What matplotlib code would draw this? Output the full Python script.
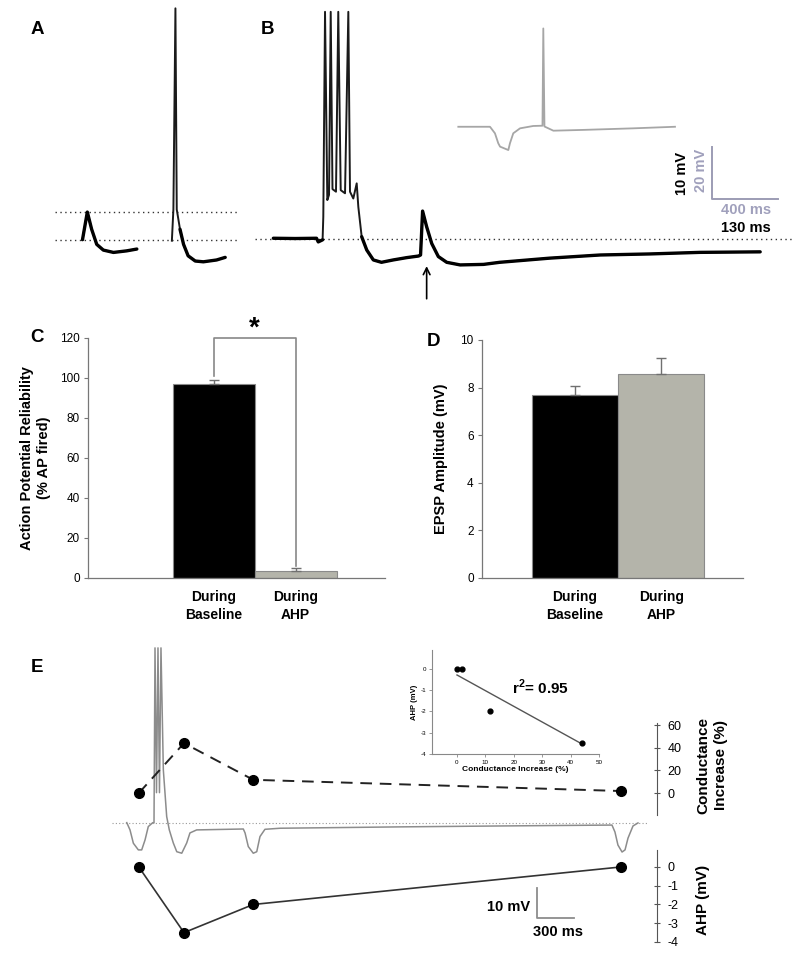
import numpy as np
import matplotlib
matplotlib.use("Agg")
import matplotlib.pyplot as plt

plt.rcParams['font.family'] = ['Liberation Sans', 'DejaVu Sans']
plt.rcParams['axes.unicode_minus'] = False
plt.rcParams['mathtext.fontset'] = 'custom'
plt.rcParams['mathtext.rm'] = 'Liberation Sans'
plt.rcParams['mathtext.bf'] = 'Liberation Sans:bold'

W, H = 800, 957

# ---------------- data ----------------
# A: subthreshold EPSP and EPSP that fires a spike (ms, mV from rest)
a_epsp_t = [64, 73.5, 82, 92, 105, 125, 151, 171]
a_epsp_v = [0.1, 5.4, 2.1, -0.8, -1.9, -2.35, -2.05, -1.7]
a_spike_t = [240, 243, 247, 249.6, 256, 263, 272, 286, 302, 328, 345]
a_spike_v = [-0.1, 5.9, 44.5, 5.9, 2.1, -0.8, -3.0, -4.0, -4.15, -3.8, -3.3]
a_levels = [0, 5.5]

# B: spike train, then an EPSP riding on the AHP
b_t = [46, 89, 131, 134.5, 143, 144.4, 147.8, 152.3, 155.7, 159, 162.5, 169.4, 173.9,
       178.7, 187.2, 193.7, 197, 203.5, 210.2, 213.4, 220, 230, 243, 259, 282, 309,
       332, 336, 340, 348, 358, 371, 387.5, 414, 460, 492, 591, 690, 788, 886, 1005]
b_v = [0.2, 0.15, 0.2, -0.5, -0.1, 4.3, 43.5, 7.5, 8.5, 43.5, 9.6, 9.1, 43.5,
       9.4, 8.8, 43.5, 9.1, 7.8, 10.7, 6.2, 0.5, -2.05, -3.95, -4.4, -3.95, -3.5,
       -3.2, -3.0, 5.4, 2.4, -0.8, -3.3, -4.4, -4.9, -4.8, -4.4, -3.6, -3.0, -2.8, -2.5, -2.4]
b_stim_t = 348

# B inset (grey): hyperpolarizing pulse then spike
g_t = [111, 303, 333, 353, 364, 414, 424, 444, 485, 565, 621, 626, 633, 687, 868, 1171, 1424]
g_v = [-0.1, -0.1, -2.6, -6.4, -7.7, -9.0, -6.4, -2.6, -0.7, 0.2, 0.3, 37.5, 0, -1.6, -1.3, -0.7, -0.1]

# C: AP reliability
groups = ['During\nBaseline', 'During\nAHP']
rel_mean = [96.8, 3.3]
rel_sem = [2.0, 1.7]

# D: EPSP amplitude
epsp_mean = [7.67, 8.57]
epsp_sem = [0.40, 0.66]

# E: conductance-probe trace (ms, mV)
e_t = [175, 201, 228, 268, 295, 322, 348, 384,
       394, 402, 414, 426, 438, 450, 469,
       496, 517, 549, 577, 617, 657, 683, 737, 1112, 1126, 1152, 1192, 1220, 1246,
       1286, 1407, 2372, 3176, 4076, 4100, 4124, 4157, 4181, 4205, 4245, 4285]
e_v = [0.1, -2.3, -6.7, -8.9, -8.9, -5.6, -1.2, 0.1,
       0, 57.8, 10, 57.8, 10, 57.8, 17.5,
       2.1, -2.3, -6.6, -9.5, -10.0, -6.6, -3.3, -2.3, -2.0, -3.3, -7.8, -10.0, -9.5, -4.5,
       -2.1, -1.75, -1.3, -1.0, -0.7, -3.0, -7.3, -9.6, -8.9, -5.0, -1.0, 0]
pulse_t = [272, 635, 1192, 4148]
cond_inc = [0, 44, 11.7, 1.8]
ahp_mv = [0, -3.5, -2.0, 0]
fit_x = [0, 44]
fit_y = [-0.3, -3.53]
r2 = 0.95


def px_rect(l, t, r, b):
    return [l / W, 1 - b / H, (r - l) / W, (b - t) / H]


fig = plt.figure(figsize=(8, 9.57), dpi=100)


def ftext(x, y, s, **kw):
    fig.text(x / W, 1 - y / H, s, **kw)


dot_ls = (0, (1, 2.5))
bold = dict(fontweight='bold')
lavender = '#a0a0bc'


def trace(ax, t, v, thin_mask):
    t = np.asarray(t, float)
    v = np.asarray(v, float)
    ax.plot(t, v, color='#1a1a1a', lw=1.4, solid_joinstyle='round')
    ax.plot(t, np.where(thin_mask(t, v), np.nan, v), color='black', lw=2.4,
            solid_joinstyle='round', solid_capstyle='round')


# ---------------- A ----------------
ax_a = fig.add_axes(px_rect(50, 0, 245, 310))
ax_a.set_xlim(0, 384)
ax_a.set_ylim(-13.4, 46.1)
ax_a.axis('off')
for lev in a_levels:
    ax_a.axhline(lev, xmin=0.026, xmax=0.964, color='#333', lw=1, ls=dot_ls)
trace(ax_a, a_epsp_t, a_epsp_v, lambda t, v: v > 20)
trace(ax_a, a_spike_t, a_spike_v, lambda t, v: v > 5)

# ---------------- B ----------------
ax_b = fig.add_axes(px_rect(250, 0, 800, 310))
ax_b.set_xlim(0, 1083.5)
ax_b.set_ylim(-13.52, 45.76)
ax_b.axis('off')
ax_b.axhline(0, xmin=0.009, xmax=0.985, color='#333', lw=1, ls=dot_ls)
trace(ax_b, b_t, b_v, lambda t, v: (t > 143.5) & (t < 219))
ax_b.annotate('', xy=(b_stim_t, -4.6), xytext=(b_stim_t, -11.9),
              arrowprops=dict(arrowstyle='->', lw=1.2, color='black', mutation_scale=12))
# scale bar: 10 mV / 130 ms (black), 20 mV / 400 ms (grey)
ax_b.plot([910.7, 910.7, 1040.7], [17.7, 7.7, 7.7], color='#9c9cb4', lw=1.4)

ax_gi = fig.add_axes(px_rect(440, 20, 690, 160))
ax_gi.set_xlim(0, 1515)
ax_gi.set_ylim(-12.81, 40.73)
ax_gi.axis('off')
ax_gi.plot(g_t, g_v, color='#a6a6a6', lw=1.3)

ftext(682, 173, '10 mV', rotation=90, ha='center', va='center', fontsize=10.5, **bold)
ftext(701, 170, '20 mV', rotation=90, ha='center', va='center', fontsize=10.5,
      color=lavender, **bold)
ftext(746, 210, '400 ms', ha='center', va='center', fontsize=10.5, color=lavender, **bold)
ftext(746, 228, '130 ms', ha='center', va='center', fontsize=10.5, **bold)


# ---------------- C & D ----------------
def bar_panel(rect, means, sems, xlim, ylim, yticks, ylabel, label_x):
    ax = fig.add_axes(px_rect(*rect))
    x = np.arange(len(means))
    ax.bar(x, means, width=1.0, color=['black', '#b4b4aa'], edgecolor='#8a8a8a', linewidth=0.8)
    ax.errorbar(x, means, yerr=[np.zeros(len(means)), sems], fmt='none',
                ecolor='#707070', elinewidth=1, capsize=3.5, capthick=1)
    ax.set_xlim(*xlim)
    ax.set_ylim(*ylim)
    ax.set_yticks(yticks)
    ax.set_xticks(x)
    ax.set_xticklabels(groups, fontsize=10, fontweight='bold', linespacing=1.3)
    ax.tick_params(axis='x', length=0, pad=9)
    ax.tick_params(axis='y', length=3, width=0.8, color='#777', labelsize=8.5, pad=3)
    for s in ('top', 'right'):
        ax.spines[s].set_visible(False)
    for s in ('left', 'bottom'):
        ax.spines[s].set_color('#777')
        ax.spines[s].set_linewidth(0.9)
    ax.set_ylabel(ylabel, fontsize=10.5, fontweight='bold', linespacing=1.25)
    ax.yaxis.set_label_coords(label_x, 0.5)
    return ax


ax_c = bar_panel((88, 338, 385, 578), rel_mean, rel_sem, (-1.53, 2.09), (0, 120),
                 range(0, 121, 20), 'Action Potential Reliability\n(% AP fired)', -0.125)
sig_top = 120
ax_c.plot([0, 0, 1, 1], [rel_mean[0] + rel_sem[0] + 2, sig_top, sig_top, rel_mean[1] + rel_sem[1] + 1],
          color='#888', lw=1.2, clip_on=False)
ax_c.text(0.5, 121, '*', ha='center', va='baseline', fontsize=20, fontweight='bold')

ax_d = bar_panel((482, 340, 743, 578), epsp_mean, epsp_sem, (-1.08, 1.95), (0, 10),
                 range(0, 11, 2), 'EPSP Amplitude (mV)', -0.13)

# ---------------- E ----------------
e_rect = px_rect(105, 640, 657, 945)
ax_e = fig.add_axes(e_rect)
ax_e.set_xlim(0, 4438)
ax_e.set_ylim(-40.3, 60.4)
ax_e.axis('off')
ax_e.axhline(0, xmin=0.013, xmax=0.984, color='#999', lw=0.8, ls=(0, (1, 2)))
ax_e.plot(e_t, e_v, color='#8c8c8c', lw=1.1)
ax_e.plot([3471, 3471, 3771], [-21.45, -31.45, -31.45], color='#8c8c8c', lw=1.3)
ftext(530, 907, '10 mV', ha='right', va='center', fontsize=10.5, **bold)
ftext(558, 932, '300 ms', ha='center', va='center', fontsize=10.5, **bold)


def right_axis(ylim, bounds, ticks):
    ax = fig.add_axes(e_rect, sharex=ax_e)
    ax.patch.set_alpha(0)
    ax.set_ylim(*ylim)
    for s in ('top', 'left', 'bottom'):
        ax.spines[s].set_visible(False)
    ax.spines['right'].set_bounds(*bounds)
    ax.spines['right'].set_color('#555')
    ax.yaxis.tick_right()
    ax.set_yticks(ticks)
    ax.tick_params(axis='y', direction='inout', length=5, width=0.8, color='#555',
                   labelsize=9, pad=5)
    ax.xaxis.set_visible(False)
    return ax


ax_cond = right_axis((-134, 135), (-19, 62), [0, 20, 40, 60])
ax_cond.plot(pulse_t, cond_inc, color='#222', lw=1.4, ls=(0, (6, 4)),
             marker='o', markersize=7, markerfacecolor='black', markeredgecolor='black')
ax_ahp = right_axis((-4.16, 12.1), (-4, 0.9), [0, -1, -2, -3, -4])
ax_ahp.plot(pulse_t, ahp_mv, color='#333', lw=1.2,
            marker='o', markersize=7, markerfacecolor='black', markeredgecolor='black')

ftext(712, 765, 'Conductance\nIncrease (%)', rotation=90, ha='center', va='center',
      fontsize=11, linespacing=1.35, **bold)
ftext(703, 900, 'AHP (mV)', rotation=90, ha='center', va='center', fontsize=11, **bold)

# inset regression
ax_in = fig.add_axes(px_rect(432, 650, 599, 754))
ax_in.scatter(cond_inc, ahp_mv, s=12, color='black', zorder=3)
ax_in.plot(fit_x, fit_y, color='#555', lw=1)
ax_in.set_xlim(-8.8, 50)
ax_in.set_ylim(-4, 0.87)
ax_in.set_xticks(range(0, 51, 10))
ax_in.set_yticks([0, -1, -2, -3, -4])
ax_in.tick_params(labelsize=4.5, length=2, width=0.6, color='#888', pad=2)
for s in ('top', 'right'):
    ax_in.spines[s].set_visible(False)
for s in ('left', 'bottom'):
    ax_in.spines[s].set_color('#888')
    ax_in.spines[s].set_linewidth(0.8)
ax_in.set_xlabel('Conductance Increase (%)', fontsize=6, fontweight='bold', labelpad=1)
ax_in.set_ylabel('AHP (mV)', fontsize=5.5, fontweight='bold', labelpad=2)
ax_in.text(29.5, -0.9, r'r$^\mathbf{2}$= %.2f' % r2, ha='center', va='center',
           fontsize=11, fontweight='bold')

# panel letters
for lab, x, y in [('A', 37, 30), ('B', 268, 29), ('C', 37, 337), ('D', 433, 342), ('E', 37, 667)]:
    ftext(x, y, lab, ha='center', va='center', fontsize=13.5, **bold)

fig.savefig('out.png', dpi=100)
